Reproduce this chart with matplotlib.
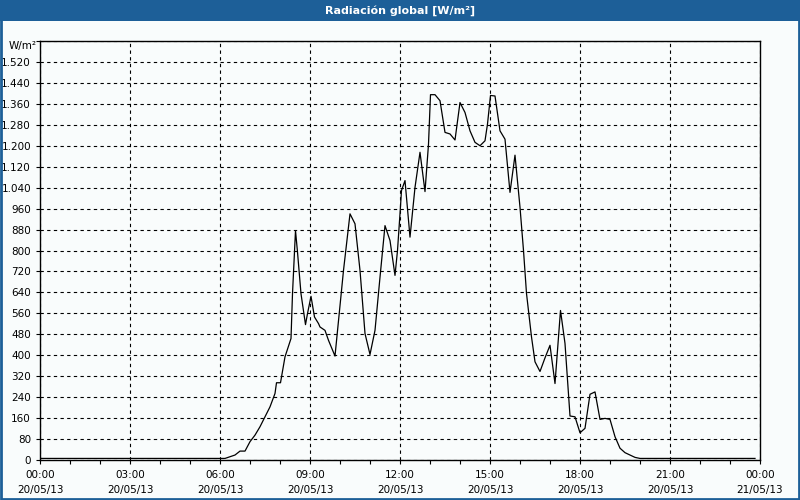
import matplotlib
matplotlib.use('Agg')
import matplotlib.pyplot as plt
import matplotlib.dates as mdates
from matplotlib.patches import Rectangle
from matplotlib.ticker import MultipleLocator, FuncFormatter
import pandas as pd

# lecturas cada ~10 min, 20/05/2013
horas = ['00:00', '06:10', '06:30', '06:40', '06:50', '07:00', '07:10', '07:20', '07:30',
         '07:40', '07:50', '07:53', '08:01', '08:10', '08:22', '08:25', '08:31', '08:35',
         '08:42', '08:51', '08:55', '09:02', '09:09', '09:17', '09:20', '09:30', '09:37',
         '09:50', '10:07', '10:20', '10:30', '10:40', '10:50', '11:00', '11:10', '11:20',
         '11:30', '11:40', '11:50', '11:55', '12:00', '12:03', '12:10', '12:20', '12:30',
         '12:40', '12:50', '12:57', '13:01', '13:10', '13:20', '13:30', '13:40', '13:50',
         '14:00', '14:10', '14:20', '14:30', '14:40', '14:50', '14:55', '15:01', '15:10',
         '15:20', '15:30', '15:40', '15:50', '16:00', '16:07', '16:13', '16:23', '16:30',
         '16:40', '16:50', '17:00', '17:10', '17:21', '17:30', '17:40', '17:50', '18:00',
         '18:10', '18:20', '18:30', '18:40', '18:50', '19:00', '19:10', '19:20', '19:30',
         '19:40', '19:50', '20:00', '23:50']
radiacion = [6, 6, 19, 34, 34, 70, 95, 127, 165,
             203, 254, 295, 295, 394, 464, 635, 876, 794,
             635, 517, 559, 625, 546, 521, 508, 495, 457,
             397, 724, 940, 902, 724, 483, 403, 495, 698,
             895, 838, 705, 800, 940, 1029, 1067, 851, 1041,
             1175, 1025, 1206, 1395, 1395, 1372, 1251, 1245, 1222,
             1365, 1327, 1257, 1213, 1200, 1219, 1283, 1392, 1390,
             1257, 1225, 1022, 1164, 965, 800, 636, 470, 375,
             338, 390, 438, 292, 571, 445, 168, 165, 104,
             121, 251, 260, 155, 159, 155, 89, 45, 28,
             19, 10, 6, 6]

t = pd.to_datetime(['2013-05-20 ' + h for h in horas])

azul = '#1d5f98'
fondo = '#f9fcfc'

fig = plt.figure(figsize=(8, 5), dpi=100, facecolor=fondo)
ax = fig.add_axes([0.05, 0.08, 0.90, 0.838])
ax.set_facecolor(fondo)

ax.plot(t, radiacion, c='black', lw=0.9)

ax.set_xlim(pd.Timestamp('2013-05-20 00:00'), pd.Timestamp('2013-05-21 00:00'))
ax.set_ylim(0, 1600)

ax.xaxis.set_major_locator(mdates.HourLocator(byhour=range(0, 24, 3)))
ax.xaxis.set_minor_locator(mdates.HourLocator())
ax.xaxis.set_major_formatter(mdates.DateFormatter('%H:%M\n%d/%m/%y'))
ax.yaxis.set_major_locator(MultipleLocator(80))
ax.yaxis.set_major_formatter(FuncFormatter(lambda v, p: f"{int(v):,}".replace(',', '.') if v < 1600 else ''))

ax.grid(True, which='major', color='black', ls=(0, (3, 3)), lw=0.8)
ax.tick_params(axis='both', which='both', direction='out', length=3, width=0.8,
               labelsize=7.5, colors='black')
ax.tick_params(axis='x', which='major', pad=4)
for lbl in ax.get_xticklabels():
    lbl.set_linespacing(1.6)
for s in ax.spines.values():
    s.set_linewidth(1)

ax.text(-0.005, 1.0, 'W/m²', transform=ax.transAxes, ha='right', va='top', fontsize=7.5)

# barra de titulo y borde
fig.patches.append(Rectangle((0, 1 - 21 / 500), 1, 21 / 500, transform=fig.transFigure,
                             facecolor=azul, edgecolor='none', zorder=0))
fig.patches.append(Rectangle((0.001, 0.002), 0.998, 0.996, transform=fig.transFigure,
                             facecolor='none', edgecolor=azul, lw=2, zorder=0))
fig.text(0.5, 1 - 10.5 / 500, 'Radiación global [W/m²]', ha='center', va='center',
         color='white', fontsize=8, fontweight='bold')

fig.savefig('out.png', dpi=100, facecolor=fondo)
